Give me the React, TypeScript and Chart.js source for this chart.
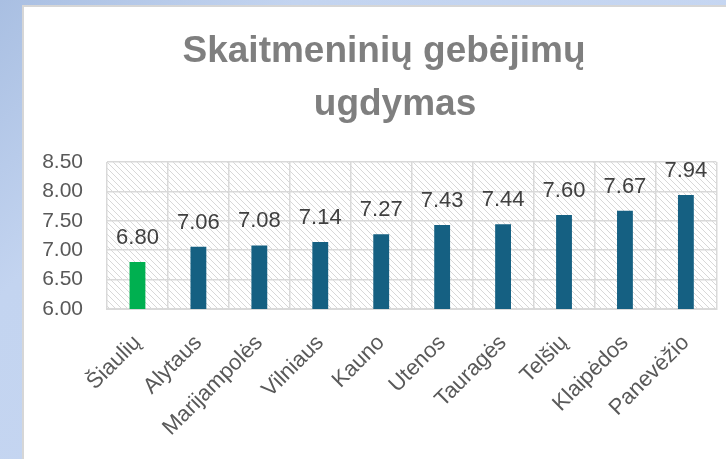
import React, { useEffect, useRef } from "react";
import { Chart, registerables } from "chart.js";

Chart.register(...registerables);

const categories = ["Šiaulių", "Alytaus", "Marijampolės", "Vilniaus", "Kauno", "Utenos", "Tauragės", "Telšių", "Klaipėdos", "Panevėžio"];
const values = [6.8, 7.06, 7.08, 7.14, 7.27, 7.43, 7.44, 7.6, 7.67, 7.94];
const highlightIndex = 0;
const titleLines = ["Skaitmeninių gebėjimų", "ugdymas"];
const yMin = 6.0;
const yMax = 8.5;
const yStep = 0.5;

const FONT = "'Liberation Sans', Arial, sans-serif";

function makePattern(ctx: CanvasRenderingContext2D) {
  const c = document.createElement("canvas");
  c.width = 6;
  c.height = 6;
  const p = c.getContext("2d")!;
  p.fillStyle = "#ffffff";
  p.fillRect(0, 0, 6, 6);
  p.strokeStyle = "#d8d8d8";
  p.lineWidth = 1;
  p.beginPath();
  for (let k = -1; k <= 1; k++) {
    p.moveTo(k * 6, 0);
    p.lineTo(k * 6 + 6, 6);
  }
  p.stroke();
  return ctx.createPattern(c, "repeat");
}

const hatchPlugin = {
  id: "hatch",
  beforeDraw(chart: any) {
    const { ctx, chartArea } = chart;
    const pat = makePattern(ctx);
    if (!pat) return;
    ctx.save();
    ctx.fillStyle = pat;
    ctx.fillRect(chartArea.left, chartArea.top, chartArea.right - chartArea.left, chartArea.bottom - chartArea.top);
    ctx.restore();
  },
};

// Title drawn on the canvas; each line centred like the original text box
const titlePlugin = {
  id: "titleText",
  afterDraw(chart: any) {
    const { ctx } = chart;
    ctx.save();
    ctx.font = `bold 37px ${FONT}`;
    ctx.fillStyle = "#7f7f7f";
    ctx.textAlign = "center";
    ctx.textBaseline = "alphabetic";
    ctx.fillText(titleLines[0], 360, 55);
    ctx.fillText(titleLines[1], 371, 108);
    ctx.restore();
  },
};

const valueLabelPlugin = {
  id: "valueLabels",
  afterDatasetsDraw(chart: any) {
    const { ctx } = chart;
    const meta = chart.getDatasetMeta(0);
    ctx.save();
    ctx.font = `22px ${FONT}`;
    ctx.fillStyle = "#404040";
    ctx.textAlign = "center";
    ctx.textBaseline = "alphabetic";
    meta.data.forEach((bar: any, i: number) => {
      ctx.fillText(values[i].toFixed(2), bar.x, bar.y - 18);
    });
    ctx.restore();
  },
};

export default function App() {
  const ref = useRef<HTMLCanvasElement>(null);
  useEffect(() => {
    if (!ref.current) return;
    const chart = new Chart(ref.current, {
      type: "bar",
      data: {
        labels: categories,
        datasets: [
          {
            data: values,
            backgroundColor: values.map((_, i) => (i === highlightIndex ? "#00B050" : "#156082")),
            categoryPercentage: 1,
            barPercentage: 0.26,
          },
        ],
      },
      plugins: [hatchPlugin, valueLabelPlugin, titlePlugin],
      options: {
        animation: false,
        responsive: true,
        maintainAspectRatio: false,
        layout: { padding: { left: 4, right: 9, top: 155, bottom: 0 } },
        plugins: {
          legend: { display: false },
          tooltip: { enabled: false },
          title: { display: false },
        },
        scales: {
          x: {
            afterFit(scale: any) {
              scale.height = 150;
            },
            grid: { color: "#d9d9d9", lineWidth: 1.5, drawTicks: false, offset: true },
            border: { color: "#d9d9d9", width: 2 },
            ticks: {
              color: "#595959",
              font: { family: FONT, size: 22 },
              minRotation: 45,
              maxRotation: 45,
              padding: 21,
              autoSkip: false,
            },
          },
          y: {
            min: yMin,
            max: yMax,
            afterFit(scale: any) {
              scale.width = 79;
            },
            grid: { color: "#d9d9d9", lineWidth: 1.5, drawTicks: false },
            border: { display: false },
            ticks: {
              stepSize: yStep,
              color: "#595959",
              font: { family: FONT, size: 21 },
              padding: 24,
              callback: (v: any) => Number(v).toFixed(2),
            },
          },
        },
      },
    });
    return () => chart.destroy();
  }, []);

  return (
    <div
      style={{
        position: "fixed",
        left: 0,
        top: 0,
        width: 726,
        height: 459,
        overflow: "hidden",
        background: "linear-gradient(135deg, #a9bfe2 0%, #c3d4f0 25%, #c8d8f3 100%)",
      }}
    >
      <div
        style={{
          position: "absolute",
          left: 22,
          top: 5,
          width: 710,
          height: 460,
          background: "#ffffff",
          borderTop: "2px solid #d6d6d6",
          borderLeft: "2px solid #d6d6d6",
        }}
      >
        <div style={{ position: "relative", width: 702, height: 452 }}>
          <canvas ref={ref} />
        </div>
      </div>
    </div>
  );
}
